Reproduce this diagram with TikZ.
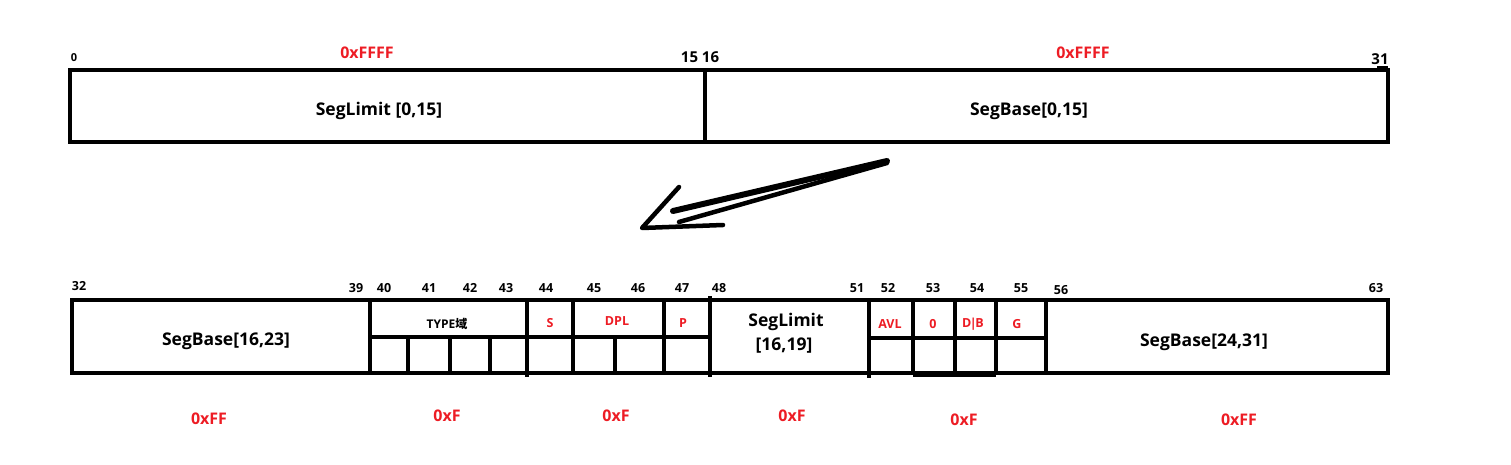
\documentclass[tikz,border=0pt]{standalone}
\usepackage{fontspec}
\setmainfont{Open Sans}
\newfontfamily\cjkfont{Noto Sans CJK SC}
\definecolor{paintred}{RGB}{237,28,36}
\begin{document}
\begin{tikzpicture}[x=1pt,y=-1pt,
  frame/.style={line width=4pt, line cap=rect},
  bigtxt/.style={font=\bfseries\fontsize{17.5}{17.5}\selectfont, inner sep=0pt},
  smalltxt/.style={font=\bfseries\fontsize{12}{12}\selectfont, inner sep=0pt},
  bitnum/.style={font=\bfseries\fontsize{12.5}{12.5}\selectfont, inner sep=0pt},
  bignum/.style={font=\bfseries\fontsize{15}{15}\selectfont, inner sep=0pt},
  hexred/.style={font=\bfseries\fontsize{16}{16}\selectfont, text=paintred, inner sep=0pt},
  fieldred/.style={font=\bfseries\fontsize{12.5}{12.5}\selectfont, text=paintred, inner sep=0pt},
  stroke/.style={line width=5pt, line cap=round, line join=round}]
\useasboundingbox (0,0) rectangle (1511,465);

% ---------- top descriptor word ----------
\draw[frame] (70,70) rectangle (1388,142);
\draw[frame] (705,70) -- (705,142);
\draw[line width=1.5pt] (1377,67) -- (1388,67);

\node[bitnum, font=\bfseries\fontsize{11}{11}\selectfont] (t0) at (74,58) {0};
\node[bignum] (t15) at (700,57) {15 16};
\node[bignum] (t31) at (1380,59) {31};
\node[hexred] (hexA) at (367,53) {0xFFFF};
\node[hexred] (hexB) at (1083,53) {0xFFFF};
\node[bigtxt] (limA) at (379,111) {SegLimit [0,15]};
\node[bigtxt] (baseA) at (1029,111) {SegBase[0,15]};

% ---------- hand-drawn arrow ----------
\coordinate (a1) at (887,161);
\coordinate (a2) at (673,211);
\coordinate (a3) at (887,163);
\coordinate (a4) at (679,222);
\coordinate (h1) at (679,187);
\coordinate (h2) at (642,228);
\coordinate (h3) at (723,225);
\draw[stroke, line width=6pt] (a1) -- (a2);
\draw[stroke, line width=4.5pt] (a3) -- (a4);
\draw[stroke, line width=4.5pt] (h1) -- (h2) -- (h3);

% ---------- bottom descriptor word ----------
\draw[frame] (72,300) rectangle (1388,373);
\foreach \x in {370,527,573,664,710,869,913,955,996,1046}
  \draw[frame] (\x,300) -- (\x,373);
\draw[frame] (370,337) -- (710,337);
\draw[frame] (869,338) -- (1046,338);
\foreach \x in {408,450,490,615}
  \draw[frame] (\x,337) -- (\x,373);
\draw[line width=4pt] (710,296) -- (710,377);
\draw[line width=4pt] (527,373) -- (527,377);
\draw[line width=4pt] (869,373) -- (869,378);
\draw[line width=4pt] (913,374.5) -- (996,374.5);

\node[bitnum] (b32) at (79,286) {32};
\node[bitnum] (b39) at (356,288) {39};
\node[bitnum] (b40) at (384,288) {40};
\node[bitnum] (b41) at (429,288) {41};
\node[bitnum] (b42) at (470,288) {42};
\node[bitnum] (b43) at (506,288) {43};
\node[bitnum] (b44) at (546,288) {44};
\node[bitnum] (b45) at (594,288) {45};
\node[bitnum] (b46) at (638,288) {46};
\node[bitnum] (b47) at (682,288) {47};
\node[bitnum] (b48) at (719,288) {48};
\node[bitnum] (b51) at (857,288) {51};
\node[bitnum] (b52) at (888,288) {52};
\node[bitnum] (b53) at (933,288) {53};
\node[bitnum] (b54) at (977,288) {54};
\node[bitnum] (b55) at (1021,288) {55};
\node[bitnum] (b56) at (1061,290) {56};
\node[bitnum] (b63) at (1376,288) {63};

\node[bigtxt] (baseB) at (226,341) {SegBase[16,23]};
\node[smalltxt] (type) at (447,324) {TYPE{\cjkfont\bfseries 域}};
\node[fieldred] (fS) at (550,323) {S};
\node[fieldred] (fDPL) at (617,321) {DPL};
\node[fieldred] (fP) at (683,323) {P};
\node[bigtxt] (limB1) at (786,322) {SegLimit};
\node[bigtxt] (limB2) at (784,346) {[16,19]};
\node[fieldred] (fAVL) at (890,324) {AVL};
\node[fieldred] (f0) at (933,324) {0};
\node[fieldred] (fDB) at (973,324) {D\kern-1.5pt|\kern-1.5pt B};
\node[fieldred] (fG) at (1017,324) {G};
\node[bigtxt] (baseC) at (1204,342) {SegBase[24,31]};

\node[hexred] (hx1) at (209,419) {0xFF};
\node[hexred] (hx2) at (447,416) {0xF};
\node[hexred] (hx3) at (616,416) {0xF};
\node[hexred] (hx4) at (792,416) {0xF};
\node[hexred] (hx5) at (964,420) {0xF};
\node[hexred] (hx6) at (1239,420) {0xFF};
\end{tikzpicture}
\end{document}
